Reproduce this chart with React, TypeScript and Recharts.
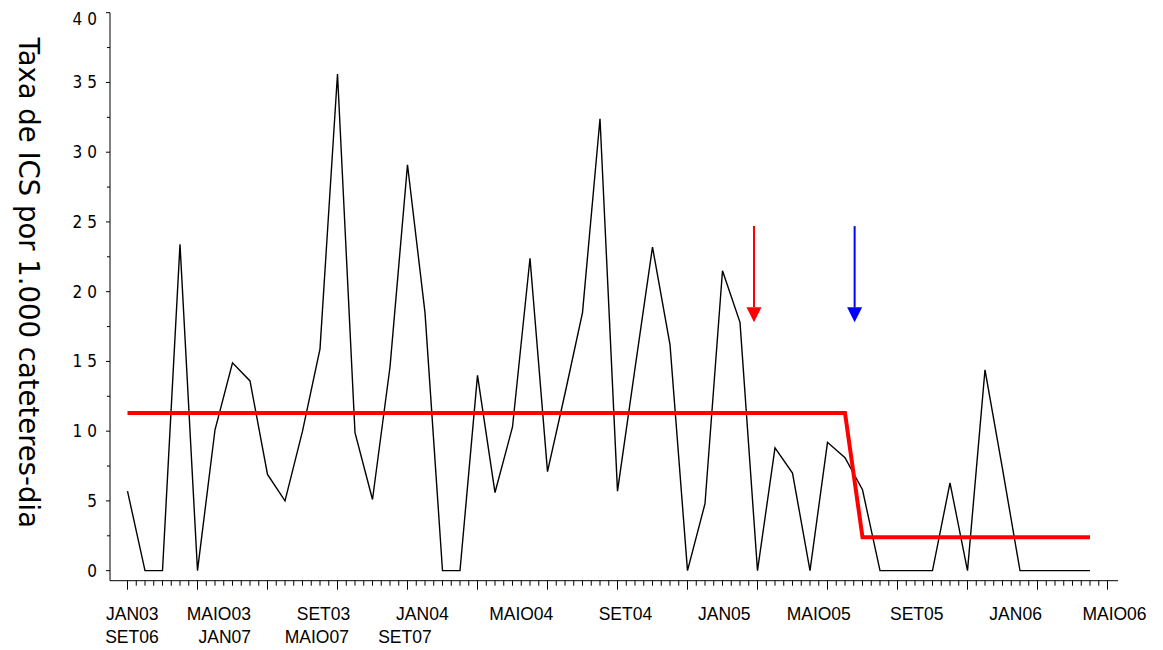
import React from 'react';
import { LineChart, Line, XAxis, YAxis, ReferenceLine } from 'recharts';

// meses da série (JAN03 .. AGO07)
const months = [
  'JAN03', 'FEV03', 'MAR03', 'ABR03', 'MAIO03', 'JUN03', 'JUL03', 'AGO03', 'SET03', 'OUT03', 'NOV03', 'DEZ03',
  'JAN04', 'FEV04', 'MAR04', 'ABR04', 'MAIO04', 'JUN04', 'JUL04', 'AGO04', 'SET04', 'OUT04', 'NOV04', 'DEZ04',
  'JAN05', 'FEV05', 'MAR05', 'ABR05', 'MAIO05', 'JUN05', 'JUL05', 'AGO05', 'SET05', 'OUT05', 'NOV05', 'DEZ05',
  'JAN06', 'FEV06', 'MAR06', 'ABR06', 'MAIO06', 'JUN06', 'JUL06', 'AGO06', 'SET06', 'OUT06', 'NOV06', 'DEZ06',
  'JAN07', 'FEV07', 'MAR07', 'ABR07', 'MAIO07', 'JUN07', 'JUL07', 'AGO07'
];

// taxa mensal de ICS por 1.000 cateteres-dia
const rates = [
  5.7, 0, 0, 23.4, 0, 10.1, 14.9, 13.6, 6.9, 5.0,
  10.0, 15.9, 35.6, 9.9, 5.1, 14.6, 29.1, 18.5, 0, 0,
  14.0, 5.6, 10.3, 22.4, 7.1, 12.7, 18.5, 32.4, 5.7, 14.5,
  23.2, 16.2, 0, 4.8, 21.5, 17.8, 0, 8.8, 7.0, 0,
  9.2, 8.1, 5.8, 0, 0, 0, 0, 6.3, 0, 14.4,
  7.3, 0, 0, 0, 0, 0
];

// média antes / depois da intervenção
const meanLevel = [
  11.3, 11.3, 11.3, 11.3, 11.3, 11.3, 11.3, 11.3, 11.3, 11.3,
  11.3, 11.3, 11.3, 11.3, 11.3, 11.3, 11.3, 11.3, 11.3, 11.3,
  11.3, 11.3, 11.3, 11.3, 11.3, 11.3, 11.3, 11.3, 11.3, 11.3,
  11.3, 11.3, 11.3, 11.3, 11.3, 11.3, 11.3, 11.3, 11.3, 11.3,
  11.3, 11.3, 2.4, 2.4, 2.4, 2.4, 2.4, 2.4, 2.4, 2.4,
  2.4, 2.4, 2.4, 2.4, 2.4, 2.4
];

// rótulos do eixo x (duas linhas, posições em meses)
const labelsTop = ['JAN03', 'MAIO03', 'SET03', 'JAN04', 'MAIO04', 'SET04', 'JAN05', 'MAIO05', 'SET05', 'JAN06', 'MAIO06'];
const labelsTopAt = [0.27, 5.22, 11.2, 16.85, 22.5, 28.45, 34.1, 39.5, 45.1, 50.75, 56.4];
const labelsBottom = ['SET06', 'JAN07', 'MAIO07', 'SET07'];
const labelsBottomAt = [0.25, 5.56, 10.82, 15.85];

const yTicks = [0, 2.5, 5, 7.5, 10, 12.5, 15, 17.5, 20, 22.5, 25, 27.5, 30, 32.5, 35, 37.5, 40];

// setas (intervenções)
const arrowAt = [35.8, 41.55];
const arrowTop = 24.7;
const arrowTip = 17.8;

const data = months.map((month, i) => ({ idx: i, month, rate: rates[i], mean: meanLevel[i] }));

const monthMarks: number[] = [];
for (let v = 0; v <= 56; v += 0.5) monthMarks.push(v);

const xLabelTicks = [...labelsTopAt, ...labelsBottomAt];

const MonthTick = (props: any) => {
  const { x, y, payload } = props;
  const major = payload.value % 4 === 0;
  return <line x1={x} x2={x} y1={y} y2={y + (major ? 9 : 5)} stroke="#000" strokeWidth={1} />;
};

const LabelTick = (props: any) => {
  const { x, y, payload } = props;
  const v = payload.value;
  let text = '';
  let row = 0;
  const t = labelsTopAt.indexOf(v);
  if (t >= 0) {
    text = labelsTop[t];
  } else {
    const b = labelsBottomAt.indexOf(v);
    if (b >= 0) { text = labelsBottom[b]; row = 1; }
  }
  return (
    <text
      x={x}
      y={y + (row === 0 ? 38.3 : 61)}
      textAnchor="middle"
      fontFamily="'Liberation Sans', Arial, sans-serif"
      fontSize={17.5}
      fill="#000"
    >
      {text}
    </text>
  );
};

const RateTick = (props: any) => {
  const { x, y, payload } = props;
  const v = payload.value;
  const major = v % 5 === 0;
  return (
    <g>
      <line x1={x - (major ? 4 : 3)} x2={x} y1={y} y2={y} stroke="#000" strokeWidth={1} />
      {major && (
        <text
          x={x - 8}
          y={y}
          dy={v === 40 ? 12 : 6}
          textAnchor="end"
          letterSpacing={5}
          fontFamily="'Liberation Sans Narrow', 'DejaVu Sans Condensed', sans-serif"
          fontSize={17}
          fill="#000"
        >
          {String(v)}
        </text>
      )}
    </g>
  );
};

const YTitle = (props: any) => {
  const vb = props.viewBox;
  const cx = vb.x - 31;
  const cy = vb.y + vb.height / 2 - 14;
  return (
    <text
      x={cx}
      y={cy}
      transform={`rotate(90 ${cx} ${cy})`}
      textAnchor="middle"
      dominantBaseline="central"
      fontFamily="'DejaVu Sans', Verdana, sans-serif"
      fontSize={27.5}
      fill="#000"
    >
      Taxa de ICS por 1.000 cateteres-dia
    </text>
  );
};

const Arrow = (color: string) => (props: any) => {
  const { x1, y1, x2, y2 } = props;
  const top = Math.min(y1, y2);
  const tip = Math.max(y1, y2);
  const head = 15;
  return (
    <g>
      <line x1={x1} x2={x1} y1={top} y2={tip - head} stroke={color} strokeWidth={2} />
      <polygon points={`${x1 - 7.5},${tip - head} ${x1 + 7.5},${tip - head} ${x1},${tip}`} fill={color} />
    </g>
  );
};

export default function App() {
  return (
    <div style={{ position: 'absolute', left: 0, top: 0, background: '#fff' }}>
      <LineChart
        width={1163}
        height={650}
        data={data}
        margin={{ top: 12.7, right: 45, bottom: 67.3, left: 60 }}
      >
        <XAxis
          dataKey="idx"
          type="number"
          domain={[-1, 56.6]}
          allowDataOverflow
          ticks={monthMarks}
          interval={0}
          height={1}
          tickSize={0}
          tickMargin={0}
          tickLine={false}
          axisLine={{ stroke: '#000', strokeWidth: 1 }}
          tick={(p: any) => <MonthTick {...p} />}
        />
        <XAxis
          xAxisId="labels"
          dataKey="idx"
          type="number"
          domain={[-1, 56.6]}
          allowDataOverflow
          ticks={xLabelTicks}
          interval={0}
          height={1}
          tickSize={0}
          tickMargin={0}
          tickLine={false}
          axisLine={false}
          tick={(p: any) => <LabelTick {...p} />}
        />
        <YAxis
          type="number"
          domain={[-0.72, 40]}
          allowDataOverflow
          ticks={yTicks}
          interval={0}
          width={50}
          tickSize={0}
          tickMargin={0}
          tickLine={false}
          axisLine={{ stroke: '#000', strokeWidth: 1 }}
          tick={(p: any) => <RateTick {...p} />}
          label={{ content: (p: any) => <YTitle {...p} /> }}
        />
        <ReferenceLine
          segment={[{ x: arrowAt[0], y: arrowTop }, { x: arrowAt[0], y: arrowTip }]}
          shape={Arrow('#ff0000')}
          ifOverflow="visible"
        />
        <ReferenceLine
          segment={[{ x: arrowAt[1], y: arrowTop }, { x: arrowAt[1], y: arrowTip }]}
          shape={Arrow('#0000ff')}
          ifOverflow="visible"
        />
        <Line
          type="linear"
          dataKey="rate"
          stroke="#000"
          strokeWidth={1.4}
          dot={false}
          activeDot={false}
          isAnimationActive={false}
        />
        <Line
          type="linear"
          dataKey="mean"
          stroke="#ff0000"
          strokeWidth={4}
          dot={false}
          activeDot={false}
          isAnimationActive={false}
        />
      </LineChart>
    </div>
  );
}
